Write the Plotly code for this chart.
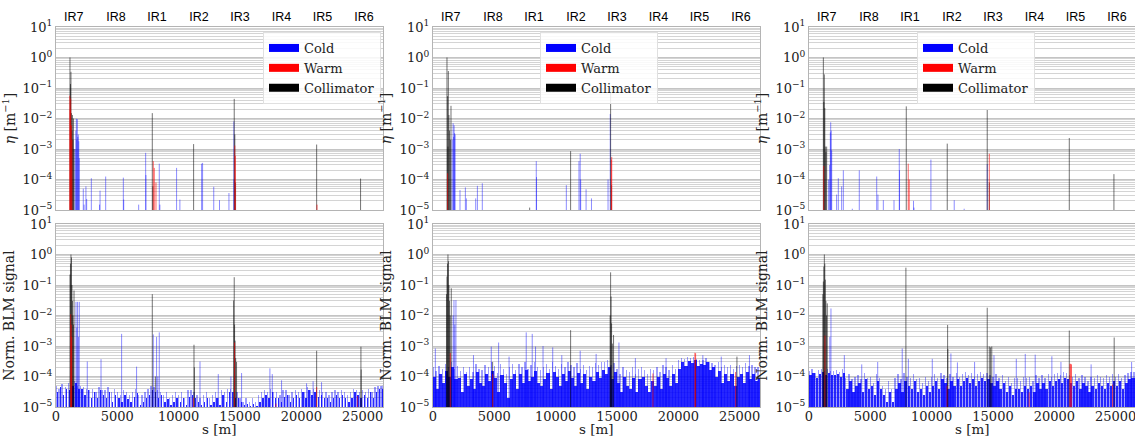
import numpy as np
import plotly.graph_objects as go
from plotly.subplots import make_subplots

# ---------------- data ----------------
S_MAX = 26659
IR_S = [1450, 4890, 8230, 11650, 15000, 18390, 21730, 25100]
IR_NAMES = ["IR7", "IR8", "IR1", "IR2", "IR3", "IR4", "IR5", "IR6"]
S_TICKS = [0, 5000, 10000, 15000, 20000, 25000]

# --- top row: eta [1/m] ---
a_col_s = [1140, 1180, 1220, 1260, 1300, 1340, 1380, 1420, 1470, 7850, 7900, 11220, 14530, 14580, 14640, 21250, 24830]
a_col_v = [1.0, 0.135, 0.34, 0.015, 0.004, 0.013, 0.002, 0.01, 0.001, 0.015, 6e-5, 1.45e-3, 0.044, 3e-3, 8e-5, 1.4e-3, 1.07e-4]
a_warm_s = [1120, 1160, 1200, 1250, 1300, 7930, 8010, 8150, 14580, 14620, 21280]
a_warm_v = [0.056, 0.02, 0.045, 0.006, 0.002, 4e-4, 2.4e-4, 8e-5, 1.3e-3, 6e-4, 1.5e-5]
a_cold_s = [1560, 1620, 1660, 1700, 1740, 1780, 1820, 1860, 1900, 2225, 2290, 2440, 2500, 2880, 3550, 3590, 4050,
            5490, 5520, 6740, 7310, 7330, 8420, 8470, 9830, 10100, 11870, 11950, 12860, 13330, 14100, 14500, 14520]
a_cold_v = [0.001, 0.004, 0.0098, 0.002, 0.0095, 0.0025, 0.003, 0.0018, 0.0005, 5e-5, 1.5e-5, 6e-5, 2.3e-5, 1.1e-4,
            1.5e-5, 4.3e-5, 1.25e-4, 1.15e-4, 2.2e-5, 1.5e-5, 7.5e-4, 1.4e-4, 3.3e-4, 1.5e-5, 2.4e-4, 2.2e-5,
            3.3e-4, 3.5e-4, 5.8e-5, 2.1e-5, 3.6e-5, 8e-3, 1e-4]

b_col_s = [1140, 1190, 1220, 1250, 1300, 1350, 1420, 1467, 7880, 11220, 14480, 14560]
b_col_v = [1.0, 0.054, 0.0012, 0.36, 0.013, 0.004, 0.002, 0.026, 1.2e-5, 8.5e-4, 0.07, 6.5e-5]
b_warm_s = [1190, 14540, 14570]
b_warm_v = [1.6e-4, 4.5e-4, 5.5e-4]
b_cold_s = [1560, 1640, 1680, 1720, 1760, 1800, 2200, 2640, 2720, 3480, 3620, 4020, 8420, 8440, 10870, 11900,
            12000, 12040, 12480, 12920, 14270, 14450]
b_cold_v = [0.002, 0.007, 0.0025, 0.006, 0.0033, 0.003, 4.5e-5, 5.5e-5, 2.4e-5, 2.4e-5, 6.2e-5, 7.5e-5, 4e-4,
            1.2e-4, 6.5e-5, 4e-4, 7e-4, 1e-4, 4.8e-5, 2.4e-5, 1e-4, 0.014]

c_col_s = [1170, 1210, 1250, 1290, 1330, 1380, 1440, 7930, 11270, 14530, 14700, 21220, 24860]
c_col_v = [1.0, 0.035, 0.28, 0.022, 0.0012, 0.0008, 0.0012, 0.025, 1.5e-3, 0.019, 8e-5, 2.3e-3, 1.5e-4]
c_warm_s = [1200, 8090, 8170, 14700]
c_warm_v = [2.8e-4, 3.3e-4, 1e-4, 7e-4]
c_cold_s = [1600, 1680, 1740, 1770, 1810, 1850, 2250, 2390, 2660, 2800, 3530, 4100, 5520, 5620, 6060, 6930, 7360,
            7380, 8520, 8560, 9940, 11840, 12650, 14530]
c_cold_v = [1e-4, 3e-4, 0.0035, 0.0075, 0.004, 0.0009, 3.2e-5, 1.1e-4, 6e-5, 2e-4, 1.1e-5, 2e-4, 1.25e-4, 3.2e-5,
            2.1e-5, 2.1e-5, 1e-3, 2e-4, 2e-5, 1.2e-5, 4.5e-4, 2.1e-5, 1.1e-5, 3.2e-4]

# --- bottom row: normalised BLM signal ---
d_col_s = [1140, 1180, 1220, 1260, 1300, 1340, 1380, 1420, 1470, 7850, 8100, 11250, 11280, 14480, 14530, 14560,
           14600, 14650, 14720, 21250, 24860, 24880]
d_col_v = [0.22, 0.5, 1.0, 0.8, 0.1, 0.03, 0.01, 0.005, 0.066, 0.05, 1e-4, 1.1e-3, 2e-4, 0.031, 0.18, 5e-3,
           1.5e-3, 4e-4, 3e-4, 7e-4, 9.5e-4, 1.7e-4]
d_warm_s = [1200, 1240, 1280, 11200, 14560, 17930, 21250, 24570]
d_warm_v = [0.011, 0.005, 0.002, 2e-5, 1.3e-3, 1.3e-5, 4.5e-5, 2.3e-5]
d_cold_s = [1630, 1700, 1760, 1830, 1900, 2550, 3670, 5350, 6570, 7930, 8200, 8420, 8300, 11740, 13230, 14260,
            15130, 17440, 17630, 18390, 20430, 20960, 21650, 26600]
d_cold_v = [0.028, 0.004, 0.028, 0.002, 0.028, 3.1e-4, 3.7e-4, 2.5e-3, 2.1e-4, 2.4e-3, 2e-3, 2.8e-3, 1e-4,
            3.1e-4, 1.2e-4, 1e-4, 1.3e-4, 1.85e-4, 1.2e-4, 7.5e-5, 6e-5, 7e-5, 6.5e-5, 5e-5]

e_col_s = [1100, 1140, 1180, 1220, 1260, 1300, 1350, 1400, 1490, 4860, 11220, 14440, 14480, 14520, 14560, 14620,
           14720, 21400, 24780]
e_col_v = [0.05, 0.19, 0.5, 1.0, 0.6, 0.1, 0.03, 0.01, 0.078, 3e-4, 3.3e-3, 0.01, 0.26, 0.042, 5.5e-3, 1.2e-3,
           2.3e-3, 3.5e-4, 4.5e-4]
e_warm_s = [1410, 4870, 17930, 21350, 21410, 24670]
e_warm_v = [5.9e-4, 1.2e-4, 1.26e-4, 6e-4, 5.8e-4, 1.4e-4]
e_cold_s = [190, 1640, 1710, 1780, 1870, 4750, 5350, 7600, 8090, 8360, 8970, 9760, 12000, 15160, 3300, 6200,
            10500, 13300, 16500, 19000, 22000, 23500, 25800]
e_cold_v = [8.3e-4, 0.01, 0.032, 0.005, 0.032, 9.6e-4, 1.3e-3, 2.8e-3, 2.5e-3, 9.6e-4, 1e-3, 9e-4, 7e-4, 1.3e-3,
            5e-4, 4.5e-4, 5e-4, 5.5e-4, 4e-4, 4e-4, 5e-4, 4.5e-4, 5e-4]

f_col_s = [1130, 1170, 1210, 1250, 1290, 1330, 1380, 1430, 1490, 7900, 11300, 11320, 14530, 14700, 14800, 14900,
           21220, 24880]
f_col_v = [0.05, 0.13, 0.4, 1.0, 0.5, 0.15, 0.03, 0.01, 0.025, 0.37, 4.9e-3, 8e-4, 0.018, 9.6e-4, 9e-4, 9.6e-4,
           3.2e-3, 1.9e-3]
f_warm_s = [1300, 11250, 17950, 21270, 21330, 21400, 24750]
f_warm_v = [2.2e-3, 5e-5, 3e-5, 2.6e-4, 2.6e-4, 2.5e-4, 5.5e-5]
f_cold_s = [1790, 1700, 2880, 7600, 8100, 10050, 11570, 12100, 15080, 16900, 17630, 18440, 19800, 20540, 4300,
            5600, 13500, 23000, 26300]
f_cold_v = [0.017, 0.002, 5e-4, 8.3e-4, 3.8e-4, 3.8e-4, 5.7e-4, 2.9e-4, 5e-4, 3.8e-4, 5.5e-4, 5.2e-4, 4.6e-4,
            3e-4, 2.5e-4, 3e-4, 3e-4, 2.5e-4, 3e-4]

# cold-magnet background per 250 m bin, in units of 1e-5
BIN_M = 250
d_floor_e5 = [3, 4.5, 2.5, 4, 3.5, 5, 6, 4, 4, 2.5, 3.5, 2, 3, 2, 3.5, 2.5, 2, 3, 1.5, 2.5, 2, 1.5, 2.5, 1.8,
              1.5, 2.2, 2.8, 1.2, 1.5, 2, 2.5, 3.5, 3, 2, 2.5, 1.5, 1.8, 1.2, 1.5, 2, 1.5, 2, 1.2, 2.2, 2.5, 2, 1.5,
              1.2, 1.5, 2, 1.2, 1.5, 2, 1.2, 2.5, 1.5, 3, 3, 2, 2, 1.5, 1.2, 1.3, 1.1, 1.3, 1.1, 1.5, 2, 2.5, 2, 3,
              2, 2, 1.5, 2.2, 2.5, 1.5, 2, 2.5, 2, 3, 2, 3.5, 2.5, 3, 2.2, 2.5, 2, 2, 1.5, 2, 2.5, 2, 2.5, 2, 1.5,
              2, 3, 2.5, 2, 2.5, 2, 3, 2, 3, 4, 4]
d_env_e5 = [5, 4, 5.5, 4.5, 6, 5, 7, 5, 5, 4.5, 4, 3.5, 4, 3, 4.5, 3.5, 3.5, 4.5, 3, 4, 3, 2.5, 3.5, 3, 2.5, 3,
            4, 2.5, 2.5, 3, 4, 5, 4.5, 3.5, 3, 2.5, 3, 2, 2.5, 3, 2.5, 3, 2, 3.5, 3.5, 3, 2.5, 2, 2.5, 3, 2, 2.5,
            3, 2, 3.5, 3, 4, 4, 3, 3, 2, 1.5, 2, 1.5, 2, 1.5, 2.5, 3, 3.5, 3, 4, 3, 3, 2.5, 3.5, 3.5, 2.5, 3, 3.5,
            3, 4, 3, 4.5, 3.5, 4, 3.5, 3.5, 3, 3, 2.5, 3, 3.5, 3, 3.5, 3, 2.5, 3, 4, 3.5, 3, 3.5, 3, 4, 3, 4.5,
            5, 5]
e_floor_e5 = [10, 4, 12, 6, 15, 10, 20, 8, 9, 3, 12, 5, 8, 4, 14, 6, 5, 12, 7, 15, 9, 3, 11, 6, 2, 8, 12, 4, 12,
              6, 16, 7, 10, 15, 6, 5, 8, 13, 4, 14, 10, 5, 12, 7, 15, 9, 5, 13, 6, 12, 4, 10, 7, 14, 9, 16, 12,
              20, 8, 14, 6, 3, 10, 5, 4, 9, 3, 8, 10, 5, 3, 7, 5, 10, 4, 12, 9, 5, 12, 6, 18, 30, 22, 32, 28, 35,
              22, 25, 24, 30, 16, 20, 10, 15, 6, 12, 7, 12, 5, 10, 12, 6, 14, 8, 12, 7, 9]
e_env_e5 = [20, 15, 22, 18, 25, 20, 30, 18, 22, 15, 20, 14, 20, 14, 25, 18, 16, 24, 20, 30, 22, 13, 25, 18, 12,
            20, 25, 16, 25, 20, 30, 18, 24, 30, 20, 16, 20, 25, 18, 30, 22, 18, 25, 20, 30, 24, 20, 28, 18, 24,
            16, 22, 20, 28, 24, 30, 30, 35, 24, 28, 18, 12, 20, 16, 14, 20, 12, 18, 20, 16, 12, 18, 16, 20, 14,
            24, 20, 16, 24, 18, 35, 40, 38, 45, 40, 45, 38, 35, 35, 40, 30, 28, 24, 30, 20, 24, 20, 24, 18, 22,
            24, 20, 28, 22, 24, 20, 20]
f_floor_e5 = [11, 13, 9, 12, 14, 11, 13, 11, 11, 12, 10, 13, 4, 7, 3, 5, 6, 3, 8, 4, 5, 2.5, 7, 4, 2.5, 1.5, 3,
              1.5, 4, 6, 3, 7, 5, 4, 7, 3, 4, 2.5, 5, 3, 5, 7, 4, 8, 6, 4, 7, 5, 8, 5, 7, 9, 6, 8, 5, 7, 9, 7, 8,
              6, 5, 7, 4, 6, 3, 5, 2.5, 4, 4, 3, 5, 4, 5, 3, 6, 4, 6, 4, 7, 5, 7, 8, 6, 9, 8, 6, 5, 7, 4, 6, 5, 3,
              5, 4, 6, 5, 4, 6, 5, 7, 5, 7, 4, 6, 8, 9, 9]
f_env_e5 = [15, 17, 13, 16, 18, 15, 17, 15, 15, 16, 14, 17, 9, 12, 8, 10, 11, 8, 13, 9, 10, 6, 12, 9, 5, 4, 7, 4,
            9, 12, 8, 13, 10, 9, 12, 8, 9, 6, 10, 7, 10, 12, 9, 13, 11, 9, 12, 10, 13, 10, 12, 14, 11, 13, 10, 12,
            14, 12, 13, 11, 10, 12, 9, 11, 7, 10, 6, 9, 9, 7, 10, 9, 10, 7, 11, 9, 11, 9, 12, 10, 12, 13, 11, 14,
            13, 11, 10, 12, 9, 11, 10, 7, 10, 9, 11, 10, 9, 11, 10, 12, 10, 12, 9, 11, 13, 14, 14]

# ---------------- figure ----------------
COLD, WARM, COLL = "#0000ff", "#ff0000", "#000000"
SERIF = "DejaVu Serif"
W, H = 1150, 439   # page is cropped by the 1135 px window, as the reference is
fig = make_subplots(rows=2, cols=3)

def segs(s, v, floor=1e-7):
    xs, ys = [], []
    for a, b in zip(s, v):
        xs += [a, a, None]
        ys += [floor, b, None]
    return xs, ys

def add_spikes(s, v, color, row, col):
    xs, ys = segs(s, v)
    fig.add_trace(go.Scatter(x=xs, y=ys, mode="lines", line=dict(color=color, width=1),
                             showlegend=False, hoverinfo="skip"), row=row, col=col)

def add_floor(vals_e5, color, width, row, col, offset):
    s = [offset + BIN_M * i for i in range(len(vals_e5))]
    v = [x * 1e-5 for x in vals_e5]
    fig.add_trace(go.Bar(x=s, y=v, width=width, marker=dict(color=color, line=dict(width=0)),
                         showlegend=False, hoverinfo="skip"), row=row, col=col)

panels = [
    (1, 1, a_cold_s, a_cold_v, a_warm_s, a_warm_v, a_col_s, a_col_v, None, None, 0),
    (1, 2, b_cold_s, b_cold_v, b_warm_s, b_warm_v, b_col_s, b_col_v, None, None, 0),
    (1, 3, c_cold_s, c_cold_v, c_warm_s, c_warm_v, c_col_s, c_col_v, None, None, 0),
    (2, 1, d_cold_s, d_cold_v, d_warm_s, d_warm_v, d_col_s, d_col_v, d_floor_e5, d_env_e5, 110),
    (2, 2, e_cold_s, e_cold_v, e_warm_s, e_warm_v, e_col_s, e_col_v, e_floor_e5, e_env_e5, 250),
    (2, 3, f_cold_s, f_cold_v, f_warm_s, f_warm_v, f_col_s, f_col_v, f_floor_e5, f_env_e5, 190),
]

for (r, c, cs, cv, ws, wv, ks, kv, floor, env, core_w) in panels:
    if env is not None:
        add_floor(env, "rgba(0,0,255,0.38)", 110, r, c, 0)
        add_floor(floor, "rgba(0,0,255,0.85)", core_w, r, c, BIN_M / 2)
    add_spikes(cs, cv, "rgba(0,0,255,0.45)", r, c)
    add_spikes(ks, kv, "rgba(0,0,0,0.55)", r, c)
    add_spikes(ws, wv, "rgba(255,0,0,0.6)", r, c)

# legends (one per top panel)
leg_names = ["legend", "legend2", "legend3"]
for i, lg in enumerate(leg_names):
    for name, color in [("Cold", COLD), ("Warm", WARM), ("Collimator", COLL)]:
        fig.add_trace(go.Scatter(x=[None], y=[None], mode="lines", name=name,
                                 line=dict(color=color, width=8), legend=lg, showlegend=True),
                      row=1, col=i + 1)

xdom = [[56 / W, 383 / W], [433 / W, 760 / W], [809 / W, 1136 / W]]
ydom = [[1 - 210 / H, 1 - 27 / H], [1 - 407 / H, 1 - 224 / H]]

ytv = [1e-5, 1e-4, 1e-3, 1e-2, 1e-1, 1e0, 1e1]
ytt = ["10<sup>−5</sup>", "10<sup>−4</sup>", "10<sup>−3</sup>", "10<sup>−2</sup>", "10<sup>−1</sup>",
       "10<sup>0</sup>", "10<sup>1</sup>"]
minor_vals = [k * 10.0 ** e for e in range(-5, 1) for k in range(2, 10)]

for r in (1, 2):
    for c in (1, 2, 3):
        idx = (r - 1) * 3 + c
        xa = "xaxis" if idx == 1 else f"xaxis{idx}"
        ya = "yaxis" if idx == 1 else f"yaxis{idx}"
        xcfg = dict(domain=xdom[c - 1], range=[0, S_MAX], showgrid=False, zeroline=False, automargin=False,
                    showline=True, mirror=True, linecolor="#b4b4b4", linewidth=1, ticks="")
        if r == 1:
            xcfg.update(side="top", tickmode="array", tickvals=IR_S, ticktext=IR_NAMES,
                        tickfont=dict(family="Liberation Sans", size=12.5, color="black"))
        else:
            xcfg.update(tickmode="array", tickvals=S_TICKS, ticktext=[str(t) for t in S_TICKS],
                        tickfont=dict(family=SERIF, size=13, color="#222"), ticklabelstandoff=-3)
            fig.add_annotation(text="s [m]", xref=f"x{idx} domain", x=0.5, yref="paper", y=1 - 429 / H,
                               xanchor="center", yanchor="middle", showarrow=False,
                               font=dict(family=SERIF, size=13.5, color="#222"))
        fig.layout[xa].update(xcfg)
        ycfg = dict(domain=ydom[r - 1], type="log", range=[-5, 1], tickmode="array", tickvals=ytv,
                    ticktext=ytt, tickfont=dict(family=SERIF, size=13, color="#222"), automargin=False,
                    showgrid=True, gridcolor="#c4c4c4", gridwidth=1, zeroline=False,
                    showline=True, mirror=True, linecolor="#b4b4b4", linewidth=1, ticks="",
                    minor=dict(tickmode="array", tickvals=minor_vals, showgrid=True,
                               gridcolor="#d4d4d4", gridwidth=1, ticks=""))
        ttl = "<i>η</i> [m<sup>−1</sup>]" if r == 1 else "Norm. BLM signal"
        ycfg["title"] = dict(text=ttl, font=dict(family=SERIF, size=14, color="#222"), standoff=4)
        fig.layout[ya].update(ycfg)

leg_x = [263 / W, 540 / W, 917 / W]
for i, lg in enumerate(leg_names):
    fig.layout[lg] = dict(x=leg_x[i], y=1 - 32 / H, xanchor="left", yanchor="top",
                          bgcolor="rgba(255,255,255,0.85)", bordercolor="#e0e0e0", borderwidth=1,
                          font=dict(family=SERIF, size=13, color="#222"), itemwidth=30,
                          tracegroupgap=0)

fig.update_layout(width=W, height=H, margin=dict(l=0, r=0, t=0, b=0),
                  paper_bgcolor="white", plot_bgcolor="white", barmode="overlay", bargap=0)

fig.write_html("out.html", config={"displayModeBar": False},
               post_script="document.body.style.margin='0';document.body.style.overflow='hidden';")
